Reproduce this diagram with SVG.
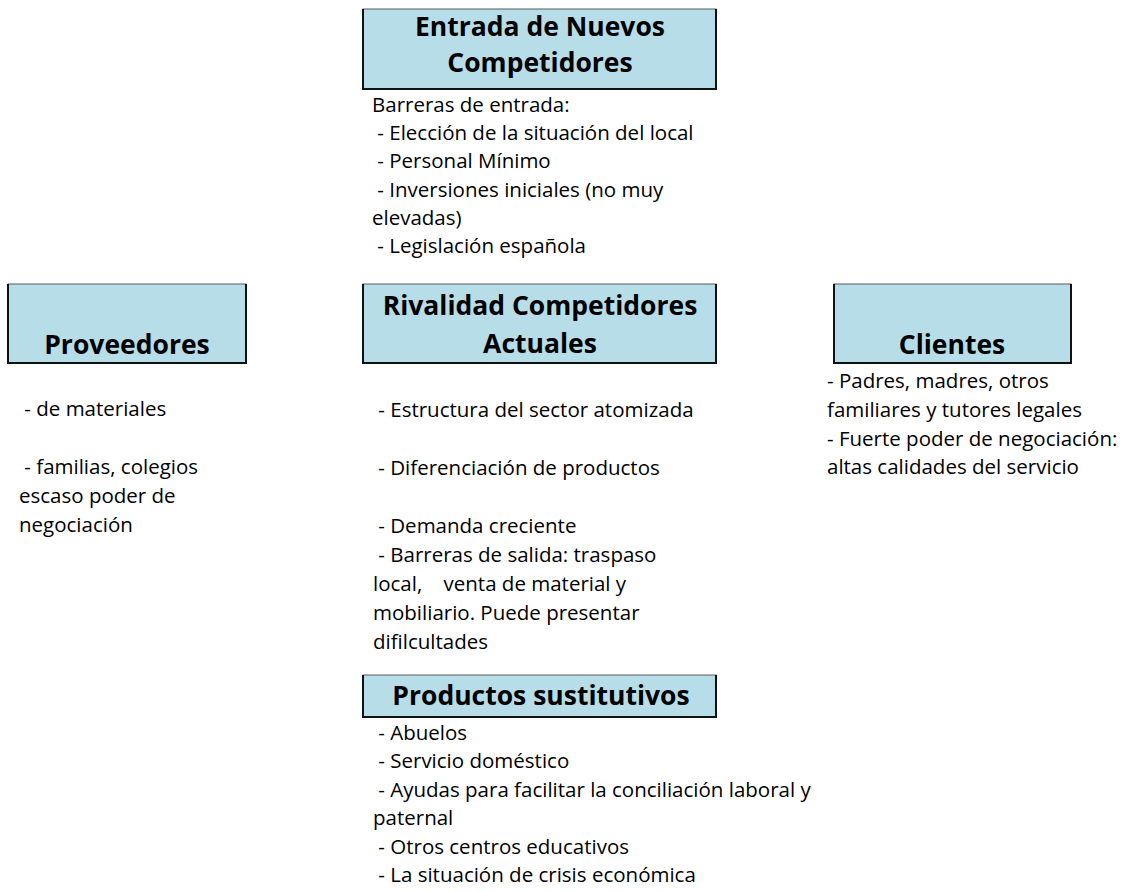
<svg xmlns="http://www.w3.org/2000/svg" width="1128" height="891" viewBox="0 0 1128 891">
<style>
.box{fill:#B7DDE8;stroke:#5a5a5a;stroke-width:1}
.edge{fill:none;stroke:#111;stroke-width:2}
.t{font-family:"Open Sans","Noto Sans","Liberation Sans",sans-serif;font-weight:bold;font-size:26.5px;fill:#000;text-anchor:middle;font-variant-ligatures:none}
.b{font-family:"Open Sans","Noto Sans","Liberation Sans",sans-serif;font-size:20.5px;fill:#000;font-variant-ligatures:none}
</style>
<rect width="1128" height="891" fill="#fff"/>
<g id="connectors"/>
<g id="entrada">
<rect class="box" x="363" y="9" width="353" height="80"/>
<path class="edge" d="M363 9V89H716V9"/>
<text class="t" x="540" y="36">Entrada de Nuevos</text>
<text class="t" x="540" y="72">Competidores</text>
<text class="b" x="372" xml:space="preserve"><tspan x="372" y="112">Barreras de entrada:</tspan><tspan x="372" y="140"> - Elección de la situación del local</tspan><tspan x="372" y="168"> - Personal Mínimo</tspan><tspan x="372" y="197"> - Inversiones iniciales (no muy</tspan><tspan x="372" y="225">elevadas)</tspan><tspan x="372" y="253"> - Legislación española</tspan></text>
</g>
<g id="proveedores">
<rect class="box" x="8" y="284" width="238" height="79"/>
<path class="edge" d="M8 284V363H246V284"/>
<text class="t" x="127" y="354">Proveedores</text>
<text class="b" xml:space="preserve"><tspan x="19" y="416"> - de materiales</tspan><tspan x="19" y="474"> - familias, colegios</tspan><tspan x="19" y="503">escaso poder de</tspan><tspan x="19" y="532">negociación</tspan></text>
</g>
<g id="rivalidad">
<rect class="box" x="363" y="284" width="353" height="79"/>
<path class="edge" d="M363 284V363H716V284"/>
<text class="t" x="540" y="315">Rivalidad Competidores</text>
<text class="t" x="540" y="353">Actuales</text>
<text class="b" xml:space="preserve"><tspan x="373" y="417"> - Estructura del sector atomizada</tspan><tspan x="373" y="475"> - Diferenciación de productos</tspan><tspan x="373" y="533"> - Demanda creciente</tspan><tspan x="373" y="562"> - Barreras de salida: traspaso</tspan><tspan x="373" y="591">local,    venta de material y</tspan><tspan x="373" y="620">mobiliario. Puede presentar</tspan><tspan x="373" y="649">difilcultades</tspan></text>
</g>
<g id="clientes">
<rect class="box" x="834" y="284" width="237" height="79"/>
<path class="edge" d="M834 284V363H1071V284"/>
<text class="t" x="952" y="354">Clientes</text>
<text class="b" xml:space="preserve"><tspan x="827" y="388">- Padres, madres, otros</tspan><tspan x="827" y="417">familiares y tutores legales</tspan><tspan x="827" y="446">- Fuerte poder de negociación:</tspan><tspan x="827" y="474">altas calidades del servicio</tspan></text>
</g>
<g id="productos">
<rect class="box" x="363" y="675" width="353" height="42"/>
<path class="edge" d="M363 675V717H716V675"/>
<text class="t" x="541" y="705">Productos sustitutivos</text>
<text class="b" xml:space="preserve"><tspan x="373" y="740"> - Abuelos</tspan><tspan x="373" y="768"> - Servicio doméstico</tspan><tspan x="373" y="797"> - Ayudas para facilitar la conciliación laboral y</tspan><tspan x="373" y="825">paternal</tspan><tspan x="373" y="854"> - Otros centros educativos</tspan><tspan x="373" y="882"> - La situación de crisis económica</tspan></text>
</g>
</svg>
